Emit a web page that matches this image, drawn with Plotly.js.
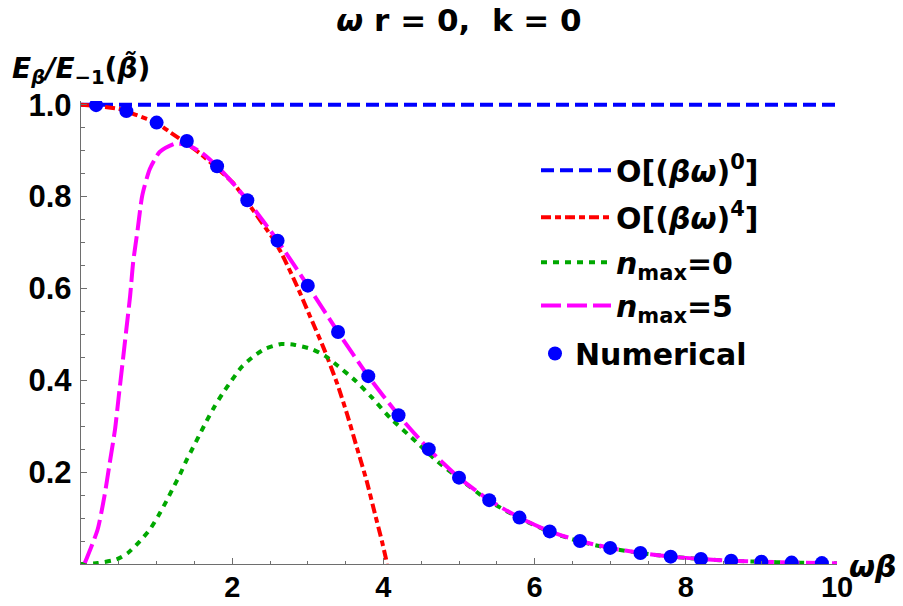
<!DOCTYPE html>
<html>
<head>
<meta charset="utf-8">
<script src="https://cdn.plot.ly/plotly-3.0.1.min.js"></script>
<style>html,body{margin:0;padding:0;background:#fff;}#chart{width:903px;height:606px;}</style>
</head>
<body>
<div id="chart"></div>
<script>
// ---- data ----
const numX = [0.2,0.6,1.0,1.4,1.8,2.2,2.6,3.0,3.4,3.8,4.2,4.6,5.0,5.4,5.8,6.2,6.6,7.0,7.4,7.8,8.2,8.6,9.0,9.4,9.8];
const numY = [0.999,0.986,0.961,0.921,0.866,0.792,0.704,0.606,0.505,0.409,0.324,0.250,0.188,0.139,0.101,0.071,0.050,0.035,0.024,0.016,0.011,0.007,0.005,0.003,0.002];

const o0X = [0, 10];
const o0Y = [1, 1];

const o4X = [0,0.5,0.74,1.0,1.18,1.58,2.02,2.19,2.55,2.66,2.86,3.03,3.21,3.39,3.52,3.65,3.78,3.89,3.98,4.05];
const o4Y = [1.0,0.991,0.977,0.960,0.94,0.893,0.828,0.79,0.706,0.674,0.604,0.539,0.47,0.392,0.326,0.253,0.18,0.108,0.05,0];

const n0X = [0,0.22,0.47,0.62,0.78,0.91,1.02,1.13,1.22,1.31,1.39,1.48,1.57,1.66,1.77,1.88,1.99,2.12,2.26,2.43,2.65,2.83,3.05,3.23,3.4,3.63,3.85,4.09,4.4,4.71,4.93,5.4,5.8,6.2,6.6,7.0,7.4,7.8,8.2,8.6,9.0,9.4,9.8,10];
const n0Y = [0,0.002,0.01,0.024,0.05,0.075,0.104,0.137,0.166,0.195,0.224,0.253,0.282,0.311,0.344,0.373,0.399,0.428,0.449,0.468,0.479,0.477,0.468,0.453,0.431,0.399,0.362,0.318,0.271,0.224,0.195,0.137,0.100,0.070,0.049,0.034,0.024,0.016,0.011,0.007,0.005,0.003,0.002,0.0015];

const n5X = [0.05,0.22,0.31,0.38,0.45,0.5,0.55,0.6,0.65,0.69,0.75,0.81,0.91,1.04,1.24,1.31,1.4,1.6,1.8,2.0,2.2,2.6,3.0,3.4,3.8,4.2,4.6,5.0,5.4,5.8,6.2,6.6,7.0,7.4,7.8,8.2,8.6,9.0,9.4,9.8,10];
const n5Y = [0.002,0.075,0.148,0.22,0.293,0.366,0.438,0.511,0.584,0.657,0.729,0.802,0.86,0.897,0.915,0.915,0.913,0.895,0.866,0.831,0.792,0.704,0.606,0.505,0.409,0.324,0.250,0.188,0.139,0.101,0.071,0.050,0.035,0.024,0.016,0.011,0.007,0.005,0.003,0.002,0.0015];

const xTicks = [2,4,6,8,10];
const yTicks = [0.2,0.4,0.6,0.8,1.0];
const names = ['O[(<i>βω</i>)<sup>0</sup>]','O[(<i>βω</i>)<sup>4</sup>]','<i>n</i><sub>max</sub>=0','<i>n</i><sub>max</sub>=5','Numerical'];

// ---- styling ----
const TFONT = 'DejaVu Sans, Verdana, sans-serif';
const NFONT = 'Liberation Sans, Arial, sans-serif';
const GRAY = 'rgb(110,110,110)';

const traces = [
  {x:o0X, y:o0Y, mode:'lines', name:names[0], legend:'legend', line:{color:'rgb(0,0,255)', width:4, dash:'13px,6px'}},
  {x:o4X, y:o4Y, mode:'lines', name:names[1], legend:'legend2', line:{color:'rgb(255,0,0)', width:4, dash:'10px,4px,6px,4px', shape:'spline', smoothing:0.6}},
  {x:n0X, y:n0Y, mode:'lines', name:names[2], legend:'legend3', line:{color:'rgb(0,168,0)', width:4, dash:'6px,6px', shape:'spline', smoothing:0.6}},
  {x:n5X, y:n5Y, mode:'lines', name:names[3], legend:'legend4', line:{color:'rgb(255,0,255)', width:4, dash:'20px,6px', shape:'spline', smoothing:0.6}},
  {x:numX, y:numY, mode:'markers', name:names[4], legend:'legend5', marker:{color:'rgb(0,0,255)', size:14}}
];

const axisCommon = {
  showline:true, linecolor:GRAY, linewidth:1.2,
  showgrid:false, zeroline:false,
  ticks:'inside', ticklen:6, tickwidth:1.2, tickcolor:GRAY,
  tickfont:{family:NFONT, size:31, color:'#000', weight:'bold'},
  minor:{ticks:'inside', ticklen:3.5, tickwidth:1, tickcolor:GRAY}
};

// plot area: left 81, right 837, top 101, bottom 563  (height 462)
const PB = 563, PH = 462, PL = 81, PW = 756;
const py = p => (PB - p) / PH;
const px = p => (p - PL) / PW;

function legendAt(xpix, ypix, iw) {
  return {x:px(xpix), y:py(ypix), xanchor:'left', yanchor:'middle', bgcolor:'rgba(0,0,0,0)',
          borderwidth:0, itemwidth:iw, font:{family:TFONT, size:30, color:'#000', weight:'bold'}};
}

const layout = {
  width:903, height:606,
  margin:{l:81, r:66, t:101, b:42},
  paper_bgcolor:'#fff', plot_bgcolor:'#fff',
  title:{text:'<i>ω</i> r = 0,  k = 0', font:{family:TFONT, size:31, color:'#000', weight:'bold'},
         x:0.5, xref:'paper', xanchor:'center', y:0.967, yref:'container', yanchor:'middle'},
  xaxis:Object.assign({}, axisCommon, {range:[0,10], tickvals:xTicks, ticktext:xTicks.map(String),
         tickfont:{family:NFONT, size:29, color:'#000', weight:'bold'},
         minor:Object.assign({}, axisCommon.minor, {dtick:0.5, tick0:0}), ticklabelstandoff:-3}),
  yaxis:Object.assign({}, axisCommon, {range:[0,1.008], tickvals:yTicks, ticktext:yTicks.map(v=>v.toFixed(1)),
         minor:Object.assign({}, axisCommon.minor, {dtick:0.05, tick0:0}), ticklabelstandoff:2}),
  showlegend:true,
  legend: legendAt(536, 170, 70),
  legend2: legendAt(536, 217, 70),
  legend3: legendAt(536, 262, 70),
  legend4: legendAt(536, 305, 70),
  legend5: legendAt(535, 353, 30),
  annotations:[
    {text:'<i>E</i><sub><i>β</i></sub><i>/E</i><sub>−1</sub>(<i>β̃</i>)', xref:'paper', yref:'paper',
     x:px(10), y:py(70), xanchor:'left', yanchor:'middle', showarrow:false,
     font:{family:TFONT, size:28, color:'#000', weight:'bold'}},
    {text:'<i>ωβ</i>', xref:'paper', yref:'paper', x:px(873), y:py(565), xanchor:'center', yanchor:'middle',
     showarrow:false, font:{family:TFONT, size:30, color:'#000', weight:'bold'}}
  ]
};

Plotly.newPlot('chart', traces, layout, {displayModeBar:false, staticPlot:true});
</script>
</body>
</html>
